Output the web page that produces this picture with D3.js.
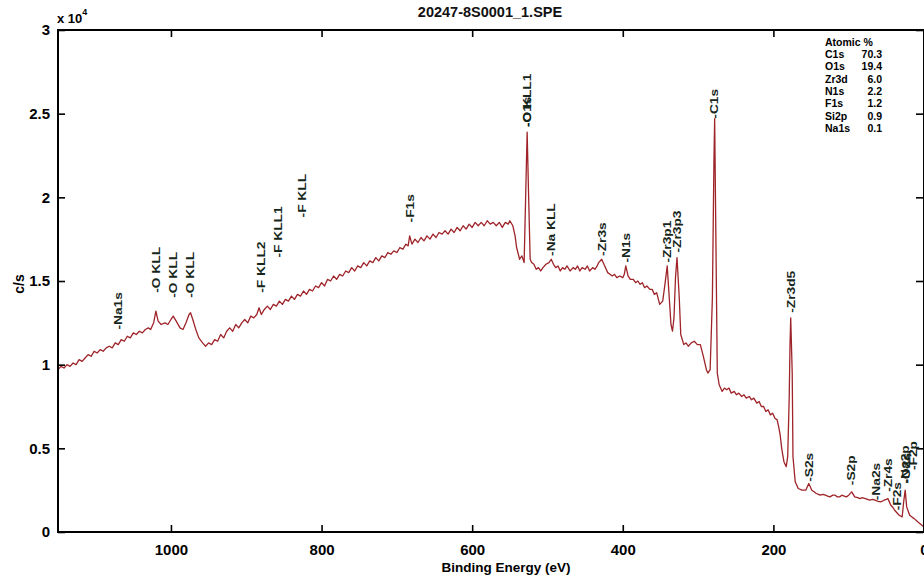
<!DOCTYPE html>
<html>
<head>
<meta charset="utf-8">
<script src="https://d3js.org/d3.v7.min.js"></script>
<style>
  html, body { margin: 0; padding: 0; background: #ffffff; }
  svg { display: block; font-family: "Liberation Sans", Arial, sans-serif; }
</style>
</head>
<body>
<svg id="chart" width="924" height="581"></svg>
<script>
// ---------------- DATA ----------------
const chartTitle = "20247-8S0001_1.SPE";
const xTicks = [1000, 800, 600, 400, 200, 0];
const yTicks = [0, 5000, 10000, 15000, 20000, 25000, 30000];

// Survey spectrum: [binding energy (eV), counts (c/s)]
const spectrum = [
  [1150, 9700], [1146, 9900], [1142, 9800], [1138, 10000], [1134, 9900], [1130, 10100],
  [1126, 10000], [1122, 10300], [1118, 10200], [1114, 10400], [1110, 10600], [1106, 10500],
  [1102, 10800], [1098, 10700], [1094, 10900], [1090, 10800], [1086, 11000], [1082, 11100],
  [1078, 11000], [1074, 11300], [1070, 11200], [1066, 11500], [1062, 11400], [1058, 11700],
  [1054, 11600], [1050, 11900], [1046, 11800], [1042, 12000], [1038, 11900], [1034, 12100],
  [1030, 12200], [1027, 12100], [1025, 12300], [1023, 12500], [1020, 13200], [1017, 12600],
  [1013, 12400], [1008, 12500], [1004, 12400], [1000, 12700], [997, 12900], [993, 12600],
  [988, 12200], [984, 12100], [980, 12500], [976, 13000], [974, 13100], [971, 12700],
  [967, 12100], [963, 11600], [958, 11300], [954, 11100], [950, 11300], [946, 11200],
  [942, 11500], [938, 11400], [934, 11800], [930, 11600], [926, 12000], [922, 12200],
  [918, 12000], [914, 12400], [910, 12200], [906, 12500], [902, 12700], [898, 12500],
  [894, 12900], [890, 12800], [886, 13000], [883, 13400], [880, 13000], [876, 13300],
  [872, 13500], [868, 13300], [864, 13600], [860, 13500], [856, 13800], [852, 13600],
  [848, 13900], [844, 13800], [840, 14100], [836, 13900], [832, 14200], [828, 14100],
  [824, 14400], [820, 14200], [816, 14500], [812, 14400], [808, 14700], [804, 14600],
  [800, 14900], [796, 14700], [792, 15100], [788, 15000], [784, 15300], [780, 15100],
  [776, 15400], [772, 15300], [768, 15600], [764, 15500], [760, 15800], [756, 15600],
  [752, 15900], [748, 15800], [744, 16100], [740, 15900], [736, 16200], [732, 16100],
  [728, 16400], [724, 16200], [720, 16500], [716, 16400], [712, 16700], [708, 16600],
  [704, 16800], [700, 16700], [696, 17000], [692, 16900], [688, 17200], [685, 17100],
  [683, 17700], [680, 17200], [676, 17500], [672, 17300], [668, 17600], [664, 17400],
  [660, 17700], [656, 17500], [652, 17800], [648, 17600], [644, 17900], [640, 17800],
  [636, 18000], [632, 17800], [628, 18100], [624, 17900], [620, 18200], [616, 18000],
  [612, 18300], [608, 18100], [604, 18400], [600, 18200], [596, 18500], [592, 18300],
  [588, 18500], [584, 18300], [580, 18600], [576, 18400], [572, 18500], [568, 18300],
  [564, 18500], [560, 18200], [556, 18500], [552, 18400], [550, 18600], [546, 18300],
  [543, 17700], [541, 17000], [537, 16300], [534, 16500], [531, 16100], [529, 20000],
  [527, 23900], [525, 20000], [523, 16300], [521, 16100], [518, 16000], [515, 15700],
  [512, 15800], [509, 15600], [506, 15800], [502, 16000], [498, 16100], [495, 16300],
  [492, 16000], [489, 15800], [486, 15900], [483, 15600], [480, 15800], [477, 15700],
  [474, 15900], [470, 15600], [466, 15800], [463, 15700], [460, 15900], [457, 15600],
  [454, 15800], [450, 15700], [447, 15900], [444, 15600], [440, 15800], [437, 15700],
  [434, 15900], [432, 16100], [428, 16300], [424, 15900], [420, 15500], [417, 15400],
  [414, 15300], [411, 15400], [408, 15200], [404, 15300], [400, 15200], [398, 15400],
  [396, 15900], [393, 15300], [390, 15100], [386, 15100], [383, 14900], [380, 15000],
  [377, 14800], [374, 14900], [371, 14600], [368, 14700], [364, 14500], [361, 14500],
  [358, 14200], [355, 14300], [351, 13600], [347, 13800], [344, 14800], [341, 15900],
  [339, 14500], [336, 12400], [334, 12000], [332, 12800], [330, 15200], [328, 16400],
  [325, 14000], [323, 11800], [319, 11200], [316, 11300], [313, 11100], [309, 11300],
  [305, 11400], [301, 11200], [297, 11200], [293, 10500], [289, 9700], [287, 9500],
  [284, 9700], [281, 14000], [279, 22000], [278, 24700], [276, 16000], [274.5, 9500],
  [272, 8800], [268, 8400], [265, 8600], [262, 8500], [259, 8600], [256, 8300],
  [252, 8400], [249, 8200], [246, 8300], [242, 8100], [239, 8200], [236, 8000],
  [232, 8100], [229, 7900], [226, 8000], [222, 7700], [219, 7800], [216, 7500],
  [213, 7500], [210, 7200], [207, 7300], [204, 7000], [201, 7100], [198, 6800],
  [195, 6700], [193, 6300], [191, 5800], [189, 5000], [186, 4200], [183, 3900],
  [181, 4500], [179, 8000], [178, 11000], [177, 12800], [175, 9500], [174, 4500],
  [171, 3000], [167, 2600], [162, 2500], [157, 2500], [153, 2900], [149, 2500],
  [146, 2400], [143, 2300], [140, 2250], [138, 2200], [134, 2250], [131, 2200],
  [128, 2150], [125, 2100], [121, 2200], [118, 2200], [115, 2100], [112, 2100],
  [109, 2200], [106, 2150], [103, 2100], [100, 2200], [96, 2400], [92, 2100],
  [88, 2050], [85, 2000], [82, 2050], [78, 2000], [75, 1950], [72, 1900],
  [68, 1950], [65, 1900], [62, 1850], [58, 1800], [55, 1850], [53, 1900],
  [50, 1950], [48, 2000], [46, 1800], [44, 1600], [41, 1450], [39, 1300],
  [36, 1150], [33, 1000], [29, 900], [27, 1800], [25, 2500], [23, 1500],
  [19, 1000], [16, 900], [13, 800], [8, 600], [4, 450], [0, 300]
];

// Peak annotations: [label, binding energy (eV), label start level (c/s)]
const peakLabels = [
  ["Na1s", 1070, 12100], ["O KLL", 1020, 14300], ["O KLL", 997, 14000], ["O KLL", 975, 14000],
  ["F KLL2", 880, 14300], ["F KLL1", 858, 16400], ["F KLL", 826, 18800], ["F1s", 683, 18500],
  ["O KLL1", 527, 24200], ["O1s", 527, 24200], ["Na KLL", 495, 16500], ["Zr3s", 428, 16500],
  ["N1s", 396, 16100], ["Zr3p1", 341, 16100], ["Zr3p3", 328, 16700], ["C1s", 279, 24700],
  ["Zr3d5", 177, 13100], ["S2s", 153, 3000], ["S2p", 97, 2800], ["Na2s", 64, 1900],
  ["Zr4s", 48, 2400], ["F2s", 36, 1300], ["Na2p", 25, 2900], ["O2s", 24, 2900], ["F2p", 15, 3700]
];

// Atomic % table
const atomicNames = ["C1s", "O1s", "Zr3d", "N1s", "F1s", "Si2p", "Na1s"];
const atomicValues = ["70.3", "19.4", "6.0", "2.2", "1.2", "0.9", "0.1"];

// ---------------- CHART ----------------
const plot = { left: 58, right: 924, top: 30, bottom: 532 };
const svg = d3.select("#chart");

const x = d3.scaleLinear().domain([1150, 0]).range([plot.left, plot.right]);
const y = d3.scaleLinear().domain([0, 30000]).range([plot.bottom, plot.top]);

// spectrum line
const line = d3.line().x(d => x(d[0])).y(d => y(d[1]));
svg.append("path")
  .datum(spectrum)
  .attr("d", line)
  .attr("fill", "none")
  .attr("stroke", "#9e2429")
  .attr("stroke-width", 1.3)
  .attr("stroke-linejoin", "round");

// axes (inward ticks on all four sides)
const tickLen = 7;
const fmtY = v => d3.format("~g")(v / 10000);

const axB = svg.append("g").attr("transform", `translate(0,${plot.bottom})`)
  .call(d3.axisBottom(x).tickValues(xTicks).tickSizeInner(-tickLen).tickSizeOuter(0).tickPadding(12).tickFormat(d3.format("d")));
const axT = svg.append("g").attr("transform", `translate(0,${plot.top})`)
  .call(d3.axisTop(x).tickValues(xTicks).tickSizeInner(-tickLen).tickSizeOuter(0).tickFormat(""));
const axL = svg.append("g").attr("transform", `translate(${plot.left},0)`)
  .call(d3.axisLeft(y).tickValues(yTicks).tickSizeInner(-tickLen).tickSizeOuter(0).tickPadding(8).tickFormat(fmtY));
const axR = svg.append("g").attr("transform", `translate(${plot.right - 1},0)`)
  .call(d3.axisRight(y).tickValues(yTicks).tickSizeInner(-tickLen).tickSizeOuter(0).tickFormat(""));

[axB, axT, axL, axR].forEach(g => {
  g.select(".domain").remove();
  g.selectAll(".tick line").attr("stroke", "#000").attr("stroke-width", 1.6);
  g.selectAll(".tick text")
    .attr("fill", "#000")
    .attr("font-size", 15)
    .attr("font-weight", "bold");
});

// frame
svg.append("rect")
  .attr("x", plot.left).attr("y", plot.top)
  .attr("width", plot.right - plot.left).attr("height", plot.bottom - plot.top)
  .attr("fill", "none").attr("stroke", "#000").attr("stroke-width", 2);

// title
svg.append("text")
  .attr("x", 490).attr("y", 17)
  .attr("text-anchor", "middle")
  .attr("font-size", 14.5)
  .attr("font-weight", "bold")
  .attr("fill", "#111")
  .text(chartTitle);

// exponent
const expo = svg.append("text").attr("x", 57).attr("y", 23).attr("font-size", 13).attr("font-weight", "bold").attr("fill", "#000");
expo.append("tspan").text("x 10");
expo.append("tspan").attr("dy", -8).attr("font-size", 9).text("4");

// axis titles
svg.append("text")
  .attr("x", (plot.left + plot.right) / 2 + 15).attr("y", 572)
  .attr("text-anchor", "middle")
  .attr("font-size", 13.5).attr("font-weight", "bold").attr("fill", "#000")
  .text("Binding Energy (eV)");
svg.append("text")
  .attr("transform", `translate(24,284) rotate(-90)`)
  .attr("text-anchor", "middle")
  .attr("font-size", 14).attr("font-weight", "bold").attr("fill", "#000")
  .text("c/s");

// peak labels
svg.append("g").selectAll("text")
  .data(peakLabels)
  .join("text")
  .attr("transform", d => `translate(${x(d[1]) + 4},${y(d[2])}) rotate(-90) scale(1.25,1)`)
  .attr("text-anchor", "start")
  .attr("font-size", 11)
  .attr("font-weight", "bold")
  .attr("fill", "#16261a")
  .text(d => "-" + d[0]);

// atomic % table
const tbl = svg.append("g").attr("font-size", 10.5).attr("font-weight", "bold").attr("fill", "#000");
tbl.append("text").attr("x", 825).attr("y", 46).text("Atomic %");
tbl.selectAll("text.nm").data(atomicNames).join("text").attr("class", "nm")
  .attr("x", 825).attr("y", (d, i) => 58 + i * 12.3).text(d => d);
tbl.selectAll("text.vl").data(atomicValues).join("text").attr("class", "vl")
  .attr("x", 882).attr("y", (d, i) => 58 + i * 12.3).attr("text-anchor", "end").text(d => d);
</script>
</body>
</html>
